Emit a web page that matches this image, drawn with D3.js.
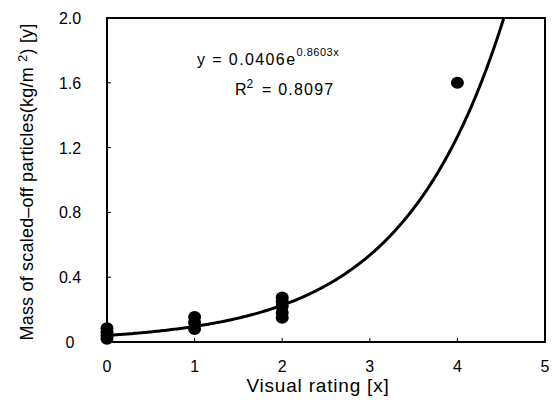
<!DOCTYPE html>
<html>
<head>
<meta charset="utf-8">
<script src="https://cdn.jsdelivr.net/npm/d3@7"></script>
<style>
  html, body { margin: 0; padding: 0; background: #fff; }
  svg { display: block; font-family: "Liberation Sans", Arial, sans-serif; }
</style>
</head>
<body>
<svg id="chart" width="559" height="409"></svg>
<script>
// observed points: visual rating vs mass of scaled-off particles
const ratings = [0, 0, 0, 0, 1, 1, 1, 2, 2, 2, 2, 2, 4];
const masses  = [0.02, 0.04, 0.06, 0.085, 0.08, 0.12, 0.155, 0.15, 0.18, 0.22, 0.25, 0.275, 1.6];
const xTicks = [0, 1, 2, 3, 4, 5];
const yTicks = [0, 0.4, 0.8, 1.2, 1.6, 2.0];
const fitA = 0.0406, fitB = 0.8603;

const svg = d3.select("#chart");
const L = 107, R = 545, T = 18, B = 342;
const x = d3.scaleLinear().domain([0, 5]).range([L, R]);
const y = d3.scaleLinear().domain([0, 2]).range([B, T]);

// frame
svg.append("rect")
  .attr("x", L).attr("y", T).attr("width", R - L).attr("height", B - T)
  .attr("fill", "none").attr("stroke", "#000").attr("stroke-width", 2);

// inward ticks
svg.append("g").selectAll("line").data(xTicks.slice(1, -1)).join("line")
  .attr("x1", d => x(d)).attr("x2", d => x(d))
  .attr("y1", B).attr("y2", B - 4)
  .attr("stroke", "#000").attr("stroke-width", 1);
svg.append("g").selectAll("line").data(yTicks.slice(1, -1)).join("line")
  .attr("x1", L).attr("x2", L + 4)
  .attr("y1", d => y(d)).attr("y2", d => y(d))
  .attr("stroke", "#000").attr("stroke-width", 1);

// tick labels
svg.append("g").selectAll("text").data(xTicks).join("text")
  .attr("x", d => x(d)).attr("y", 372)
  .attr("text-anchor", "middle").attr("font-size", 16)
  .text(d => d);
svg.append("g").selectAll("text").data(yTicks).join("text")
  .attr("x", 70).attr("y", d => y(d) + 6)
  .attr("text-anchor", "middle").attr("font-size", 16)
  .text(d => d === 0 ? "0" : d3.format(".1f")(d));

// fitted exponential curve, clipped at the top of the frame
const xEnd = Math.log(2 / fitA) / fitB;
const curveX = d3.range(0, xEnd, 0.02).concat([xEnd]);
svg.append("path")
  .datum(curveX)
  .attr("fill", "none").attr("stroke", "#000").attr("stroke-width", 3)
  .attr("d", d3.line().x(d => x(d)).y(d => y(fitA * Math.exp(fitB * d))));

// points
svg.append("g").selectAll("ellipse").data(ratings).join("ellipse")
  .attr("cx", d => x(d)).attr("cy", (d, i) => y(masses[i]))
  .attr("rx", 6.5).attr("ry", 6).attr("fill", "#000");

// equation
const eq = svg.append("text").attr("x", 197).attr("y", 65).attr("font-size", 16)
  .attr("letter-spacing", 1.4);
eq.append("tspan").text("y = 0.0406e");
eq.append("tspan").attr("dy", -9).attr("font-size", 11).attr("letter-spacing", 0.5).text("0.8603x");
const r2 = svg.append("text").attr("x", 235).attr("y", 95).attr("font-size", 16);
r2.append("tspan").text("R");
r2.append("tspan").attr("dy", -7).attr("font-size", 12).text("2");
svg.append("text").attr("x", 262).attr("y", 95).attr("font-size", 16)
  .attr("letter-spacing", 1.2).text("= 0.8097");

// axis titles
svg.append("text")
  .attr("x", 318).attr("y", 392)
  .attr("text-anchor", "middle").attr("font-size", 19)
  .attr("letter-spacing", 0.8)
  .text("Visual rating [x]");
const yt = svg.append("text")
  .attr("transform", "translate(33,182) rotate(-90)")
  .attr("text-anchor", "middle").attr("font-size", 18)
  .attr("letter-spacing", 0.2);
yt.append("tspan").text("Mass of scaled\u2013off particles(kg/m ");
yt.append("tspan").attr("dy", -6).attr("font-size", 13).text("2");
yt.append("tspan").attr("dy", 6).text(") [y]");
</script>
</body>
</html>
